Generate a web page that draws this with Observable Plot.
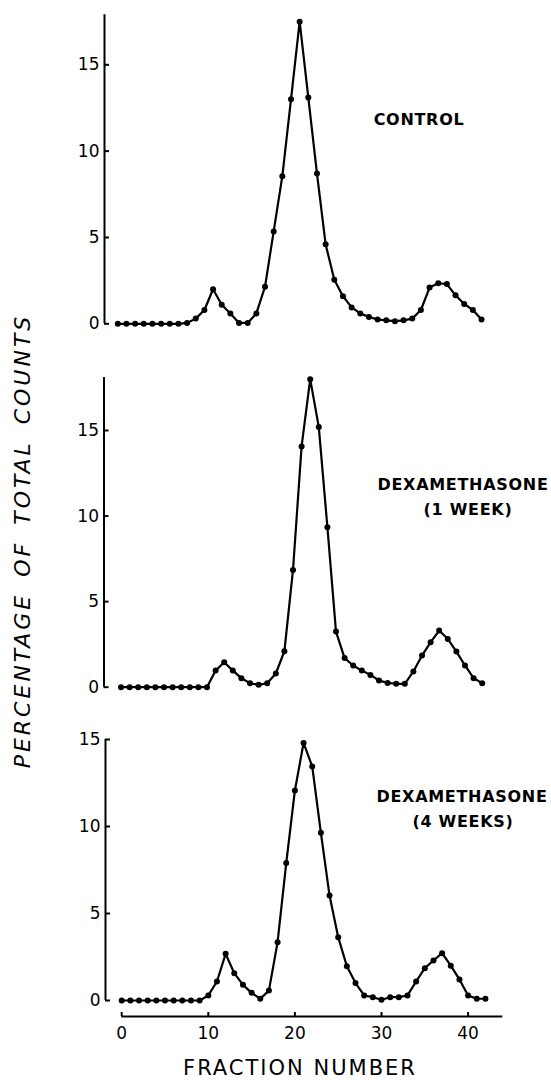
<!DOCTYPE html>
<html><head><meta charset="utf-8">
<script src="https://cdn.jsdelivr.net/npm/d3@7"></script>
<script src="https://cdn.jsdelivr.net/npm/@observablehq/plot@0.6"></script>
<style>
body{margin:0;background:#fff;}
#chart{position:relative;width:551px;height:1080px;overflow:hidden;font-family:"DejaVu Sans",sans-serif;color:#000;background:#fff;}
.panel{position:absolute;left:0;}
.lab{position:absolute;transform:translate(-50%,-50%);white-space:nowrap;font-weight:bold;font-size:16px;letter-spacing:0.7px;line-height:1;}
.ytitle{position:absolute;transform:translate(-50%,-50%) rotate(-90deg);white-space:nowrap;font-style:italic;font-size:22px;letter-spacing:3px;word-spacing:6px;line-height:1;}
.xtitle{position:absolute;transform:translate(-50%,-50%);white-space:nowrap;font-size:21px;letter-spacing:2px;line-height:1;}
</style></head><body><div id="chart"></div>
<script>
// ---- data ----
const fractions = [0,1,2,3,4,5,6,7,8,9,10,11,12,13,14,15,16,17,18,19,20,21,22,23,24,25,26,27,28,29,30,31,32,33,34,35,36,37,38,39,40,41,42];
const control = [0,0,0,0,0,0,0,0,0.05,0.3,0.8,2.0,1.1,0.6,0.05,0.05,0.6,2.15,5.35,8.55,13.0,17.5,13.1,8.7,4.6,2.55,1.6,0.95,0.6,0.4,0.25,0.2,0.15,0.2,0.3,0.8,2.1,2.35,2.3,1.65,1.15,0.8,0.25];
const dex1week = [0,0,0,0,0,0,0,0,0,0,0,0.97,1.46,0.97,0.53,0.23,0.14,0.23,0.8,2.1,6.85,14.07,18.0,15.2,9.35,3.25,1.7,1.27,0.97,0.72,0.39,0.25,0.2,0.2,0.92,1.85,2.63,3.31,2.82,2.08,1.27,0.53,0.23];
const dex4weeks = [0,0,0,0,0,0,0,0,0,0,0.29,1.09,2.68,1.57,0.9,0.44,0.1,0.57,3.35,7.9,12.07,14.8,13.45,9.64,6.03,3.64,1.97,1.0,0.29,0.19,0.04,0.19,0.19,0.29,1.09,1.86,2.3,2.72,2.0,1.21,0.29,0.1,0.1];
const yTicks = [0,5,10,15];
const xTicks = [0,10,20,30,40];
const panelLabels = [["CONTROL"],["DEXAMETHASONE","(1 WEEK)"],["DEXAMETHASONE","(4 WEEKS)"]];
const yTitle = "PERCENTAGE OF TOTAL COUNTS";
const xTitle = "FRACTION NUMBER";

// ---- layout (pixels) ----
const layout = [
  {top:0,   h:345, spine:104,   x0:117.3, ux:8.66, y0:323.3, y15:64.3, spineTop:17.9, fb:333, xAxis:false,
   labels:[{x:419,y:120}]},
  {top:345, h:360, spine:103.5, x0:120.5, ux:8.6,  y0:686.7, y15:430,  spineTop:18.1, fb:697, xAxis:false,
   labels:[{x:463,y:485},{x:468,y:510}]},
  {top:705, h:375, spine:105,   x0:121.2, ux:8.66, y0:1000,  y15:739,  spineTop:15,   fb:1016, xAxis:true,
   labels:[{x:462,y:797},{x:463,y:822}]}
];
const series = [control, dex1week, dex4weeks];
const chart = document.getElementById("chart");

series.forEach((vals, k) => {
  const g = layout[k];
  const data = fractions.map((f, i) => ({f, v: vals[i]}));
  const uy = (g.y0 - g.y15) / 15;
  const right = 510;
  const mt = 4;
  const xMin = (g.spine - g.x0) / g.ux, xMax = (right - g.x0) / g.ux;
  const yMax = (g.y0 - g.top - mt) / uy;
  const yMin = -(g.fb - g.y0) / uy;
  const mb = g.top + g.h - g.fb;
  const marks = [
    Plot.ruleX([xMin], {y1: 0, y2: g.spineTop, stroke: "black", strokeWidth: 2}),
    Plot.ruleY(yTicks.filter(t => t <= g.spineTop), {y: d => d, x1: xMin, x2: xMin + 5 / g.ux, stroke: "black", strokeWidth: 2}),
    Plot.axisY(yTicks, {tickSize: 0, tickPadding: 5, fontSize: 17, label: null}),
    Plot.line(data, {x: "f", y: "v", stroke: "black", strokeWidth: 2.2}),
    Plot.dot(data, {x: "f", y: "v", r: 3, fill: "black"})
  ];
  if (g.xAxis) {
    marks.push(
      Plot.ruleY([yMin], {x1: 0, x2: 44, stroke: "black", strokeWidth: 2}),
      Plot.ruleX(xTicks, {x: d => d, y1: yMin, y2: yMin + 4 / uy, stroke: "black", strokeWidth: 2}),
      Plot.axisX(xTicks, {tickSize: 0, tickPadding: 10, fontSize: 17, label: null})
    );
  }
  const svg = Plot.plot({
    width: 551, height: g.h,
    marginLeft: g.spine, marginRight: 551 - right, marginTop: mt, marginBottom: mb,
    x: {domain: [xMin, xMax], ...(g.xAxis ? {} : {axis: null})},
    y: {domain: [yMin, yMax]},
    style: {fontFamily: "DejaVu Sans", fontSize: "17px", color: "black", background: "transparent", overflow: "visible"},
    marks
  });
  svg.classList.add("panel");
  svg.style.top = g.top + "px";
  chart.appendChild(svg);
  panelLabels[k].forEach((txt, j) => {
    const d = document.createElement("div");
    d.className = "lab";
    d.textContent = txt;
    d.style.left = g.labels[j].x + "px";
    d.style.top = g.labels[j].y + "px";
    chart.appendChild(d);
  });
});

const yt = document.createElement("div");
yt.className = "ytitle"; yt.textContent = yTitle;
yt.style.left = "23px"; yt.style.top = "541px";
chart.appendChild(yt);
const xt = document.createElement("div");
xt.className = "xtitle"; xt.textContent = xTitle;
xt.style.left = "300px"; xt.style.top = "1068px";
chart.appendChild(xt);
</script>
</body></html>
